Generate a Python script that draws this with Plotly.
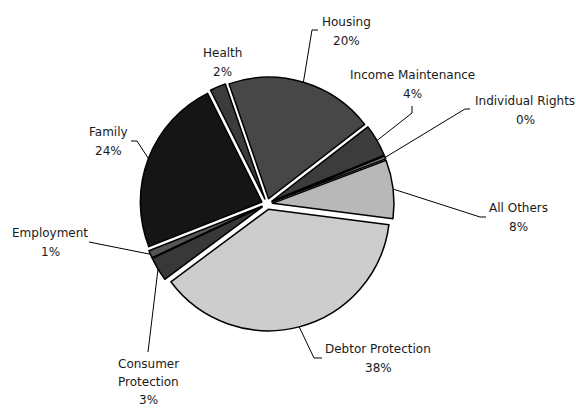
import math
import plotly.graph_objects as go

# ---- data ----
categories = ["Housing", "Income Maintenance", "Individual Rights", "All Others",
              "Debtor Protection", "Consumer Protection", "Employment", "Family", "Health"]
values = [19.8, 4.3, 0.4, 7.8, 37.8, 3.2, 1.0, 23.6, 2.1]
label_lines = [["Housing"], ["Income Maintenance"], ["Individual Rights"], ["All Others"],
               ["Debtor Protection"], ["Consumer", "Protection"], ["Employment"], ["Family"], ["Health"]]

# ---- style / layout ----
colors = ["#474747", "#3c3c3c", "#777777", "#b8b8b8", "#cdcdcd",
          "#383838", "#555555", "#151515", "#3c3c3c"]
W, H = 576, 408
CX, CY, ROUT = 267, 204, 127          # pie centre and outer extent (px)
PULL = 0.045
ROTATION = -19
FONT = dict(family="DejaVu Sans", size=12, color="#1a1a1a")

# label block: x centre, y of first line, line gap (px)
label_pos = [(346, 22, 19), (412, 75, 19), (525, 101, 19), (518, 208, 19), (378, 349, 19),
             (148, 364, 18), (50, 233, 19), (108, 132, 19), (222, 53, 19)]
# leader-line vertices after the rim anchor (px)
leaders = [[(312, 30), (318, 30)], [(412, 113), (412, 106)], [(465, 109), (470, 109)],
           [(480, 217), (486, 217)], [(314, 358), (322, 358)], [(148, 352)],
           [(89, 242)], [(137, 141), (131, 141)], []]


def px(x):
    return x / W


def py(y):
    return 1 - y / H


fig = go.Figure(go.Pie(
    labels=categories, values=values, sort=False, direction="clockwise",
    rotation=ROTATION, pull=[PULL] * len(values), textinfo="none", hoverinfo="label+percent",
    marker=dict(colors=colors, line=dict(color="black", width=1.5)),
    domain=dict(x=[px(CX - ROUT), px(CX + ROUT)], y=[py(CY + ROUT), py(CY - ROUT)]),
    showlegend=False,
))

total = sum(values)
cum = 0.0
annotations, shapes = [], []
for i, v in enumerate(values):
    mid = math.radians(ROTATION + 360 * (cum + v / 2) / total)
    cum += v
    ax_, ay_ = CX + ROUT * math.sin(mid), CY - ROUT * math.cos(mid)
    pts = [(ax_, ay_)] + leaders[i]
    if len(pts) > 1:
        path = "M " + " L ".join(f"{px(x):.5f},{py(y):.5f}" for x, y in pts)
        shapes.append(dict(type="path", path=path, xref="paper", yref="paper",
                           line=dict(color="black", width=1)))
    pct = f"{round(100 * v / total):.0f}%"
    lines = label_lines[i] + [pct]
    lx, ly, gap = label_pos[i]
    for k, t in enumerate(lines):
        annotations.append(dict(text=t, x=px(lx), y=py(ly + k * gap), xref="paper",
                                yref="paper", xanchor="center", yanchor="middle",
                                showarrow=False, font=FONT))

fig.update_layout(width=W, height=H, margin=dict(l=0, r=0, t=0, b=0),
                  paper_bgcolor="white", plot_bgcolor="white",
                  annotations=annotations, shapes=shapes)
fig.write_html("out.html")
